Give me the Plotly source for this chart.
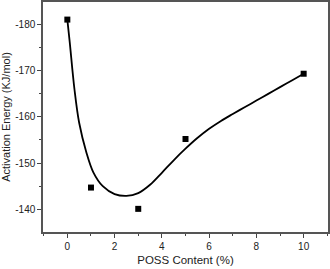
import plotly.graph_objects as go

# Measured data points
poss_content = [0, 1, 3, 5, 10]
activation_energy = [-181.0, -144.7, -140.1, -155.2, -169.3]

# Fitted curve
curve_x = [0, 0.1, 0.3, 0.5, 0.8, 1.1, 1.5, 2.0, 2.5, 3.0, 3.5, 4.0, 4.5, 5.0, 5.5, 6.0,
           6.5, 7.0, 7.5, 8.0, 8.5, 9.0, 9.5, 10]
curve_y = [-181.0, -176.2, -166.0, -158.7, -152.4, -148.0, -145.0, -143.3, -142.9, -143.5, -145.3,
           -147.9, -150.6, -153.1, -155.4, -157.4, -159.1, -160.6, -162.05, -163.5, -164.95,
           -166.4, -167.85, -169.3]

x_tick_vals = [0, 2, 4, 6, 8, 10]
x_tick_text = ["0", "2", "4", "6", "8", "10"]
y_tick_vals = [-180, -170, -160, -150, -140]
y_tick_text = ["-180", "-170", "-160", "-150", "-140"]

fig = go.Figure()
fig.add_trace(go.Scatter(x=curve_x, y=curve_y, mode="lines",
                         line=dict(color="black", width=1.8, shape="spline", smoothing=1.0),
                         showlegend=False, hoverinfo="skip"))
fig.add_trace(go.Scatter(x=poss_content, y=activation_energy, mode="markers",
                         marker=dict(symbol="square", size=6, color="black"),
                         showlegend=False))

font = dict(family="Liberation Sans, Arial, sans-serif", color="#222")
axis_common = dict(showline=True, mirror=True, linecolor="#555", linewidth=1.5,
                   ticks="outside", ticklen=4, tickwidth=1, tickcolor="#444",
                   showgrid=False, zeroline=False, automargin=False,
                   tickfont=dict(size=10, **font))

fig.update_layout(
    width=330, height=269,
    margin=dict(l=43, r=2, t=2, b=37),
    paper_bgcolor="white", plot_bgcolor="white",
    xaxis=dict(range=[-1.03, 11.03], tickvals=x_tick_vals, ticktext=x_tick_text,
               minor=dict(dtick=1, tick0=0, ticklen=2, ticks="outside", tickcolor="#444"),
               title=dict(text="POSS Content (%)", font=dict(size=11.5, **font), standoff=5),
               **axis_common),
    yaxis=dict(range=[-135.1, -184.8], tickvals=y_tick_vals, ticktext=y_tick_text,
               minor=dict(dtick=5, tick0=-180, ticklen=2, ticks="outside", tickcolor="#444"),
               title=dict(text="Activation Energy (KJ/mol)", font=dict(size=11, **font), standoff=6),
               **axis_common),
)

fig.write_html("out.html", config={"displayModeBar": False},
               post_script="document.body.style.margin='0';document.body.style.overflow='hidden';")
